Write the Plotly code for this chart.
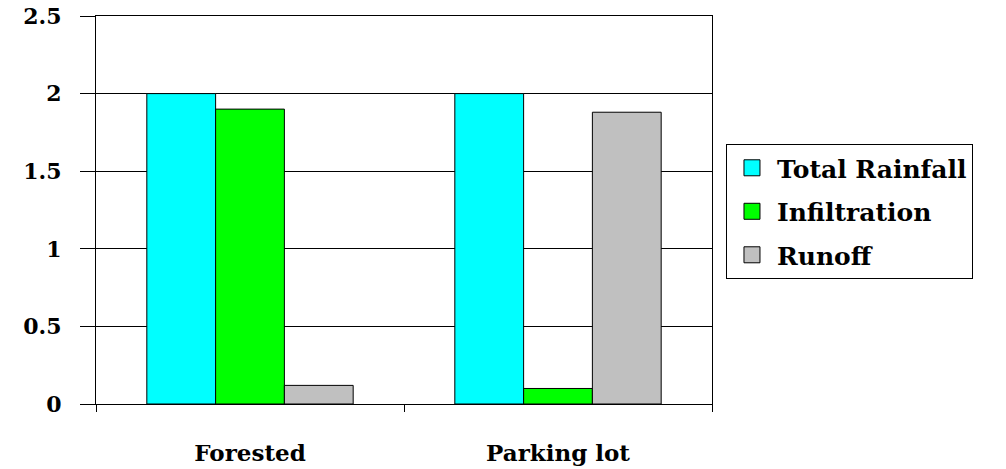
import plotly.graph_objects as go

# Rainfall fate for two land covers (inches)
categories = ["Forested", "Parking lot"]
series_names = ["Total Rainfall", "Infiltration", "Runoff"]
total_rainfall = [2.0, 2.0]
infiltration = [1.9, 0.1]
runoff = [0.12, 1.88]
y_ticks = [0, 0.5, 1, 1.5, 2, 2.5]
y_tick_labels = ["0", "0.5", "1", "1.5", "2", "2.5"]

colors = ["#00FFFF", "#00FF00", "#C0C0C0"]
values = [total_rainfall, infiltration, runoff]
FONT = "DejaVu Serif"

fig = go.Figure()
for name, vals, col in zip(series_names, values, colors):
    fig.add_trace(go.Bar(
        x=categories, y=vals, name=name,
        marker=dict(color=col, line=dict(color="black", width=1)),
        showlegend=False,
    ))

# legend entries with larger square swatches
for i, (name, col) in enumerate(zip(series_names, colors)):
    fig.add_trace(go.Scatter(
        x=[None], y=[None], mode="markers", name=name,
        legendgroup=f"g{i}",
        marker=dict(symbol="square", size=16, color=col,
                    line=dict(color="black", width=1)),
    ))

fig.update_layout(
    width=1006, height=469,
    margin=dict(l=96, r=294, t=16, b=65),
    paper_bgcolor="white", plot_bgcolor="white",
    barmode="group", bargap=0.33, bargroupgap=0,
    font=dict(family=FONT, size=22, color="black", weight="bold"),
    legend=dict(
        x=1.0227, xanchor="left", y=0.67, yanchor="top",
        bordercolor="black", borderwidth=1,
        font=dict(family=FONT, size=25, color="black", weight="bold"),
        tracegroupgap=8, itemwidth=40,
    ),
)
fig.update_xaxes(
    type="category", showline=True, linecolor="black", linewidth=1,
    mirror=True, ticks="outside", ticklen=7, tickcolor="black",
    tickson="boundaries", showgrid=False, ticklabelstandoff=28,
    automargin=False,
    tickfont=dict(family=FONT, size=23, color="black", weight="bold"),
)
fig.update_yaxes(
    range=[0, 2.5], tickvals=y_ticks, ticktext=y_tick_labels,
    showline=True, linecolor="black", linewidth=1, mirror=True,
    ticks="outside", ticklen=15, tickcolor="black",
    showgrid=True, gridcolor="black", gridwidth=1, zeroline=False,
    ticklabelstandoff=14, automargin=False,
    tickfont=dict(family=FONT, size=22, color="black", weight="bold"),
)

fig.write_html("out.html")
